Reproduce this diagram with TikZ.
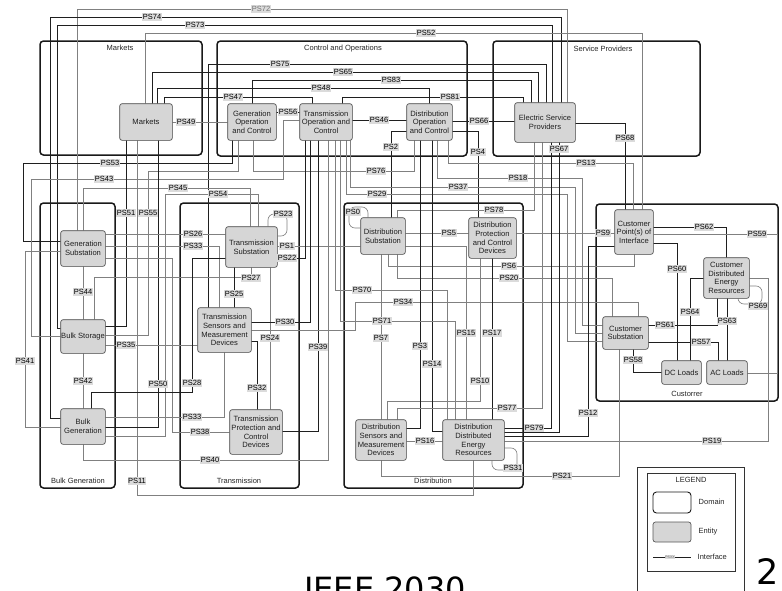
\documentclass[tikz,border=0pt]{standalone}
\usepackage{fontspec}
\setmainfont{Liberation Sans}
\newfontfamily\djv{DejaVu Sans}
\begin{document}
\begin{tikzpicture}[x=1pt,y=-1pt]
\tikzset{
  ent/.style={draw=black!65, fill=black!16, rounded corners=2.5pt, line width=0.7pt, align=center, inner sep=0pt, font=\fontsize{7.6}{8.6}\selectfont, text=black!88},
  dom/.style={draw=black!90, line width=1.5pt, rounded corners=3.5pt, inner sep=0pt},
  dtitle/.style={font=\fontsize{7.5}{9}\selectfont, text=black!85, inner sep=0.5pt},
  gl/.style={draw=black!50, line width=0.65pt},
  bl/.style={draw=black!88, line width=0.65pt},
  lab/.style={fill=black!14, inner sep=0.6pt, font=\fontsize{7.5}{8}\selectfont, text=black, text height=5.6pt, text depth=0.4pt},
}
\useasboundingbox (0,0) rectangle (782,590);
\fill[white] (0,0) rectangle (782,590);
% ---------------- domains
\node[dom, minimum width=162, minimum height=114] (dmk) at (121,98) {};
\node[dom, minimum width=250, minimum height=115] (dco) at (342,98.5) {};
\node[dom, minimum width=207, minimum height=115] (dsp) at (596.5,98.5) {};
\node[dom, minimum width=75, minimum height=285] (dbg) at (77.5,345.5) {};
\node[dom, minimum width=119, minimum height=285] (dtr) at (239.5,345.5) {};
\node[dom, minimum width=179, minimum height=285] (ddi) at (433.5,345.5) {};
\node[dom, minimum width=182, minimum height=197] (dcu) at (687,302.5) {};
\node[dtitle] (tmk) at (120,48) {Markets};
\node[dtitle] (tco) at (343,49) {Control and Operations};
\node[dtitle] (tsp) at (603,49) {Service Providers};
\node[dtitle] (tbg) at (78,481) {Bulk Generation};
\node[dtitle] (ttr) at (239,481) {Transmission};
\node[dtitle] (tdi) at (433,481) {Distribution};
\node[dtitle] (tcu) at (687,394) {Custorrer};
% ---------------- entities
\path
 node[ent, minimum width=52, minimum height=36] (mk) at (146,122) {Markets}
 node[ent, minimum width=48, minimum height=36] (goc) at (252,122) {Generation\\Operation\\and Control}
 node[ent, minimum width=52, minimum height=36] (toc) at (326,122) {Transmission\\Operation and\\Control}
 node[ent, minimum width=45, minimum height=36] (doc) at (429.5,122) {Distribution\\Operation\\and Control}
 node[ent, minimum width=60, minimum height=39] (esp) at (545,122.5) {Electric Service\\Providers}
 node[ent, minimum width=44, minimum height=35] (gs) at (83,248.5) {Generation\\Substation}
 node[ent, minimum width=44, minimum height=33] (bs) at (83,336.5) {Bulk Storage}
 node[ent, minimum width=44, minimum height=35] (bg) at (83,426.5) {Bulk\\Generation}
 node[ent, minimum width=51, minimum height=40] (ts) at (251.5,247) {Transmission\\Substation}
 node[ent, minimum width=53, minimum height=44] (tsm) at (224.5,330) {Transmission\\Sensors and\\Measurement\\Devices}
 node[ent, minimum width=52, minimum height=44] (tpc) at (256,432) {Transmission\\Protection and\\Control\\Devices}
 node[ent, minimum width=44, minimum height=36] (ds) at (383,236) {Distribution\\Substation}
 node[ent, minimum width=47, minimum height=40] (dpc) at (492.5,238) {Distribution\\Protection\\and Control\\Devices}
 node[ent, minimum width=50, minimum height=40] (dsm) at (381,440) {Distribution\\Sensors and\\Measurement\\Devices}
 node[ent, minimum width=61, minimum height=40] (dder) at (473.5,440) {Distribution\\Distributed\\Energy\\Resources}
 node[ent, minimum width=38, minimum height=44] (cpi) at (634,232) {Customer\\Point(s) of\\Interface}
 node[ent, minimum width=45, minimum height=40] (cder) at (726.5,278) {Customer\\Distributed\\Energy\\Resources}
 node[ent, minimum width=45, minimum height=32] (cs) at (625.5,333) {Customer\\Substation}
 node[ent, minimum width=39, minimum height=23] (dc) at (681.5,372.5) {DC Loads}
 node[ent, minimum width=40, minimum height=23] (ac) at (727,372.5) {AC Loads};
% ---------------- connectors
\begin{scope}
% top bus
\draw[gl] (77,0 |- gs.north) -- (77,9) -- (567,9) -- (567,0 |- esp.north);
\draw[bl] (bg.west |- 0,418) -- (50,418) -- (50,17) -- (561,17) -- (561,0 |- esp.north);
\draw[bl] (bs.west |- 0,328) -- (57,328) -- (57,25) -- (552,25) -- (552,0 |- esp.north);
\draw[gl] (145,0 |- mk.north) -- (145,33) -- (642,33) -- (642,0 |- cpi.north);
\draw[bl] (208,0 |- tsm.north) -- (208,64) -- (546,64) -- (546,0 |- esp.north);
\draw[bl] (152,0 |- mk.north) -- (152,72) -- (538,72) -- (538,0 |- esp.north);
\draw[bl] (252,0 |- goc.north) -- (252,80) -- (531,80) -- (531,0 |- esp.north);
\draw[bl] (157,0 |- mk.north) -- (157,88) -- (429,88) -- (429,0 |- doc.north);
\draw[bl] (164,0 |- mk.north) -- (164,97) -- (312,97) -- (312,0 |- toc.north);
\draw[bl] (342,0 |- toc.north) -- (342,97) -- (523,97) -- (523,0 |- esp.north);
% top row
\draw[gl] (mk.east |- 0,122) -- (goc.west |- 0,122);
\draw[bl] (goc.east |- 0,112) -- (toc.west |- 0,112);
\draw[bl] (toc.east |- 0,120) -- (doc.west |- 0,120);
\draw[bl] (doc.east |- 0,121) -- (esp.west |- 0,121);
\draw[bl] (esp.east |- 0,123) -- (625,123) -- (625,0 |- cpi.north);
\draw[bl] (doc.west |- 0,131) -- (391,131) -- (391,0 |- ds.north);
\draw[bl] (doc.east |- 0,131) -- (478,131) -- (478,0 |- dpc.north);
% band below top domains
\draw[gl] (448,0 |- doc.south) -- (448,163) -- (633,163) -- (633,0 |- cpi.north);
\draw[gl] (437,0 |- doc.south) -- (437,178) -- (582,178) -- (582,325) -- (cs.west |- 0,325);
\draw[gl] (350,0 |- toc.south) -- (350,187) -- (575,187) -- (575,333) -- (cs.west |- 0,333);
\draw[gl] (346,0 |- toc.south) -- (346,194) -- (567,194) -- (567,341) -- (cs.west |- 0,341);
\draw[gl] (253,0 |- goc.south) -- (253,171) -- (414,171) -- (414,0 |- doc.south);
\draw[bl] (232,0 |- goc.south) -- (232,163) -- (23,163) -- (23,241) -- (gs.west |- 0,241);
\draw[gl] (238,0 |- goc.south) -- (238,171) -- (148,171) -- (148,335) -- (bs.east |- 0,335);
\draw[gl] (83,0 |- gs.north) -- (83,188) -- (250,188) -- (250,0 |- ts.north);
\draw[gl] (toc.west |- 0,120) -- (283,120) -- (283,179) -- (31,179) -- (31,336) -- (bs.west |- 0,336);
\draw[gl] (bg.east |- 0,436) -- (165,436) -- (165,194) -- (258,194) -- (258,0 |- ts.north);
\draw[bl] (126,0 |- mk.south) -- (126,326) -- (bs.east |- 0,326);
\draw[gl] (137,0 |- mk.south) -- (137,495) -- (473,495) -- (473,0 |- dder.south);
\draw[bl] (158,0 |- mk.south) -- (158,427) -- (bg.east |- 0,427);
% generation / bulk
\draw[gl] (gs.east |- 0,234) -- (ts.west |- 0,234);
\draw[gl] (gs.east |- 0,246) -- (219,246) -- (219,0 |- tsm.north);
\draw[gl] (gs.east |- 0,258) -- (172,258) -- (172,432) -- (tpc.west |- 0,432);
\draw[gl] (gs.west |- 0,251) -- (25,251) -- (25,427) -- (bg.west |- 0,427);
\draw[gl] (gs.south) -- (bs.north);
\draw[gl] (bs.south) -- (bg.north);
\draw[gl] (94,0 |- bs.north) -- (94,277) -- (251,277) -- (251,0 |- ts.south);
\draw[gl] (bs.east |- 0,345) -- (tsm.west |- 0,345);
\draw[bl] (ts.west |- 0,258) -- (192,258) -- (192,392) -- (91,392) -- (91,0 |- bg.north);
\draw[gl] (bg.east |- 0,417) -- (224,417) -- (224,0 |- tsm.south);
\draw[gl] (83,0 |- bg.south) -- (83,460) -- (328,460) -- (328,0 |- toc.south);
% transmission
\draw[gl] (ts.east |- 0,246) -- (ds.west |- 0,246);
\draw[bl] (305,0 |- toc.south) -- (305,258) -- (ts.east |- 0,258);
\draw[bl] (234,0 |- ts.south) -- (234,0 |- tsm.north);
\draw[gl] (270,0 |- ts.south) -- (270,0 |- tpc.north);
\draw[bl] (tsm.east |- 0,322) -- (310,322) -- (310,0 |- toc.south);
\draw[bl] (tsm.east |- 0,341) -- (257,341) -- (257,0 |- tpc.north);
\draw[bl] (318,0 |- toc.south) -- (318,431) -- (tpc.east |- 0,431);
\draw[gl] (tsm.east |- 0,330) -- (355,330) -- (355,302) -- (638,302) -- (638,0 |- cs.north);
\draw[gl, rounded corners=6pt] (268,0 |- ts.north) -- (268,214) -- (287,214) -- (287,236) -- (ts.east |- 0,236);
% distribution
\draw[gl] (ds.east |- 0,233) -- (dpc.west |- 0,233);
\draw[gl] (dpc.east |- 0,233) -- (cpi.west |- 0,233);
\draw[gl] (397,0 |- ds.north) -- (397,210) -- (534,210) -- (534,0 |- esp.south);
\draw[gl] (388,0 |- ds.south) -- (388,266) -- (634,266) -- (634,0 |- cpi.south);
\draw[gl] (397,0 |- ds.south) -- (397,278) -- (612,278) -- (612,0 |- cs.north);
\draw[gl] (ds.east |- 0,246) -- (466,246) -- (466,0 |- dder.north);
\draw[gl] (381,0 |- ds.south) -- (381,0 |- dsm.north);
\draw[gl, rounded corners=6pt] (ds.west |- 0,228) -- (349,228) -- (349,207) -- (368,207) -- (368,0 |- ds.north);
\draw[bl] (492,0 |- dpc.south) -- (492,0 |- dder.north);
\draw[gl] (480,0 |- dpc.south) -- (480,401) -- (387,401) -- (387,0 |- dsm.north);
\draw[bl] (420,0 |- doc.south) -- (420,428) -- (dsm.east |- 0,428);
\draw[bl] (432,0 |- doc.south) -- (432,431) -- (dder.west |- 0,431);
\draw[gl] (dsm.east |- 0,441) -- (dder.west |- 0,441);
\draw[gl] (335,0 |- toc.south) -- (335,290) -- (447,290) -- (447,0 |- dder.north);
\draw[gl] (340,0 |- toc.south) -- (340,321) -- (455,321) -- (455,0 |- dder.north);
\draw[gl] (381,0 |- dsm.south) -- (381,476) -- (619,476) -- (619,0 |- cs.south);
\draw[gl] (397,0 |- dsm.north) -- (397,408) -- (542,408) -- (542,0 |- esp.south);
\draw[bl] (dder.east |- 0,428) -- (551,428) -- (551,0 |- esp.south);
\draw[bl] (559,0 |- esp.south) -- (559,432) -- (dder.east |- 0,432);
\draw[bl] (cpi.west |- 0,246) -- (588,246) -- (588,436) -- (dder.east |- 0,436);
\draw[gl] (cder.east |- 0,278) -- (768,278) -- (768,441) -- (dder.east |- 0,441);
\draw[gl, rounded corners=6pt] (dder.east |- 0,448) -- (517,448) -- (517,470) -- (492,470) -- (492,0 |- dder.south);
% customer
\draw[bl] (cpi.east |- 0,227) -- (726,227) -- (726,0 |- cder.north);
\draw[gl] (cpi.east |- 0,234) -- (777,234) -- (777,373) -- (ac.east |- 0,373);
\draw[bl] (cpi.east |- 0,243) -- (677,243) -- (677,0 |- dc.north);
\draw[bl] (cder.west |- 0,278) -- (690,278) -- (690,0 |- dc.north);
\draw[bl] (cs.east |- 0,325) -- (717,325) -- (717,0 |- cder.south);
\draw[bl] (727,0 |- cder.south) -- (727,0 |- ac.north);
\draw[bl] (cs.east |- 0,342) -- (718,342) -- (718,0 |- ac.north);
\draw[bl] (633,0 |- cs.south) -- (633,372) -- (dc.west |- 0,372);
\draw[gl, rounded corners=6pt] (cder.east |- 0,286) -- (762,286) -- (762,304) -- (738,304) -- (738,0 |- cder.south);
\end{scope}
% ---------------- entities redrawn on top
\foreach \n in {mk,goc,toc,doc,esp,gs,bs,bg,ts,tsm,tpc,ds,dpc,dsm,dder,cpi,cder,cs,dc,ac}{
  \path[draw=black!65, fill=black!16, rounded corners=2.5pt, line width=0.7pt] (\n.south west) rectangle (\n.north east);
}
\path
 node[ent, draw=none, fill=none] at (mk) {Markets}
 node[ent, draw=none, fill=none] at (goc) {Generation\\Operation\\and Control}
 node[ent, draw=none, fill=none] at (toc) {Transmission\\Operation and\\Control}
 node[ent, draw=none, fill=none] at (doc) {Distribution\\Operation\\and Control}
 node[ent, draw=none, fill=none] at (esp) {Electric Service\\Providers}
 node[ent, draw=none, fill=none] at (gs) {Generation\\Substation}
 node[ent, draw=none, fill=none] at (bs) {Bulk Storage}
 node[ent, draw=none, fill=none] at (bg) {Bulk\\Generation}
 node[ent, draw=none, fill=none] at (ts) {Transmission\\Substation}
 node[ent, draw=none, fill=none] at (tsm) {Transmission\\Sensors and\\Measurement\\Devices}
 node[ent, draw=none, fill=none] at (tpc) {Transmission\\Protection and\\Control\\Devices}
 node[ent, draw=none, fill=none] at (ds) {Distribution\\Substation}
 node[ent, draw=none, fill=none] at (dpc) {Distribution\\Protection\\and Control\\Devices}
 node[ent, draw=none, fill=none] at (dsm) {Distribution\\Sensors and\\Measurement\\Devices}
 node[ent, draw=none, fill=none] at (dder) {Distribution\\Distributed\\Energy\\Resources}
 node[ent, draw=none, fill=none] at (cpi) {Customer\\Point(s) of\\Interface}
 node[ent, draw=none, fill=none] at (cder) {Customer\\Distributed\\Energy\\Resources}
 node[ent, draw=none, fill=none] at (cs) {Customer\\Substation}
 node[ent, draw=none, fill=none] at (dc) {DC Loads}
 node[ent, draw=none, fill=none] at (ac) {AC Loads};
% ---------------- labels
\node[lab, text=black!55] (l72) at (261,9) {PS72};
\node[lab] (l74) at (152,17) {PS74};
\node[lab] (l73) at (195,25) {PS73};
\node[lab] (l52) at (426,33) {PS52};
\node[lab] (l75) at (280,64) {PS75};
\node[lab] (l65) at (343,72) {PS65};
\node[lab] (l83) at (391,80) {PS83};
\node[lab] (l48) at (321,88) {PS48};
\node[lab] (l47) at (233,97) {PS47};
\node[lab] (l81) at (450,97) {PS81};
\node[lab] (l49) at (186,122) {PS49};
\node[lab] (l56) at (288,112) {PS56};
\node[lab] (l46) at (379,120) {PS46};
\node[lab] (l66) at (479,121) {PS66};
\node[lab] (l68) at (625,138) {PS68};
\node[lab] (l2) at (391,147) {PS2};
\node[lab] (l4) at (478,152) {PS4};
\node[lab] (l67) at (559,149) {PS67};
\node[lab] (l13) at (586,163) {PS13};
\node[lab] (l18) at (518,178) {PS18};
\node[lab] (l37) at (458,187) {PS37};
\node[lab] (l29) at (377,194) {PS29};
\node[lab] (l76) at (376,171) {PS76};
\node[lab] (l53) at (110,163) {PS53};
\node[lab] (l43) at (104,179) {PS43};
\node[lab] (l45) at (178,188) {PS45};
\node[lab] (l54) at (218,194) {PS54};
\node[lab] (l51) at (126,213) {PS51};
\node[lab] (l55) at (148,213) {PS55};
\node[lab] (l26) at (193,234) {PS26};
\node[lab] (l33) at (193,246) {PS33};
\node[lab] (l44) at (83,292) {PS44};
\node[lab] (l35) at (126,345) {PS35};
\node[lab] (l41) at (25,361) {PS41};
\node[lab] (l23) at (283,214) {PS23};
\node[lab] (l1) at (287,246) {PS1};
\node[lab] (l22) at (287,258) {PS22};
\node[lab] (l27) at (251,278) {PS27};
\node[lab] (l25) at (234,294) {PS25};
\node[lab] (l30) at (285,322) {PS30};
\node[lab] (l24) at (270,338) {PS24};
\node[lab] (l39) at (318,347) {PS39};
\node[lab] (l42) at (83,381) {PS42};
\node[lab] (l50) at (158,384) {PS50};
\node[lab] (l28) at (192,383) {PS28};
\node[lab] (l32) at (257,388) {PS32};
\node[lab] (l33b) at (192,417) {PS33};
\node[lab] (l38) at (200,432) {PS38};
\node[lab] (l40) at (210,460) {PS40};
\node[lab] (l11) at (137,481) {PS11};
\node[lab] (l0) at (353,212) {PS0};
\node[lab] (l78) at (494,210) {PS78};
\node[lab] (l5) at (449,233) {PS5};
\node[lab] (l6) at (509,266) {PS6};
\node[lab] (l20) at (509,278) {PS20};
\node[lab] (l70) at (362,290) {PS70};
\node[lab] (l34) at (403,302) {PS34};
\node[lab] (l71) at (382,321) {PS71};
\node[lab] (l7) at (381,338) {PS7};
\node[lab] (l15) at (466,333) {PS15};
\node[lab] (l17) at (492,333) {PS17};
\node[lab] (l3) at (420,346) {PS3};
\node[lab] (l14) at (432,364) {PS14};
\node[lab] (l10) at (480,381) {PS10};
\node[lab] (l77) at (507,408) {PS77};
\node[lab] (l79) at (534,428) {PS79};
\node[lab] (l16) at (425,441) {PS16};
\node[lab] (l31) at (513,468) {PS31};
\node[lab] (l21) at (562,476) {PS21};
\node[lab] (l12) at (588,413) {PS12};
\node[lab] (l19) at (712,441) {PS19};
\node[lab] (l9) at (603,233) {PS9};
\node[lab] (l62) at (704,227) {PS62};
\node[lab] (l59) at (757,234) {PS59};
\node[lab] (l60) at (677,269) {PS60};
\node[lab] (l64) at (690,312) {PS64};
\node[lab] (l69) at (758,306) {PS69};
\node[lab] (l61) at (665,325) {PS61};
\node[lab] (l63) at (727,321) {PS63};
\node[lab] (l57) at (701,342) {PS57};
\node[lab] (l58) at (633,360) {PS58};
% ---------------- legend
\node[draw=black!80, line width=0.6pt, minimum width=107, minimum height=130, inner sep=0] (lgo) at (690.5,532) {};
\node[draw=black!80, line width=0.6pt, minimum width=88, minimum height=98, inner sep=0] (lgi) at (691,522) {};
\node[dtitle] (lgt) at (691,480) {LEGEND};
\node[dom, line width=0.9pt, minimum width=38, minimum height=21] (lgd) at (672,502.5) {};
\node[dtitle, anchor=west] (lgdt) at (698,502) {Domain};
\node[ent, minimum width=38, minimum height=20] (lge) at (672,532) {};
\node[dtitle, anchor=west] (lget) at (698,532) {Entity};
\coordinate (lga) at (653,557);
\coordinate (lgb) at (691,557);
\draw[bl, line width=0.5pt] (lga) -- (lgb);
\node[fill=black!14, inner sep=0.3pt, font=\fontsize{3.5}{4}\selectfont, text=black!60] (lgx) at (670,557) {PSXX};
\node[dtitle, anchor=west] (lgit) at (697,557) {Interface};
% ---------------- big texts
\node[anchor=base, font=\djv\fontsize{35}{38}\selectfont, inner sep=0] (two) at (768,584) {2};
\node[anchor=base, font=\djv\fontsize{32}{34}\selectfont, inner sep=0] (ieee) at (385,600) {IEEE 2030};
\end{tikzpicture}
\end{document}
